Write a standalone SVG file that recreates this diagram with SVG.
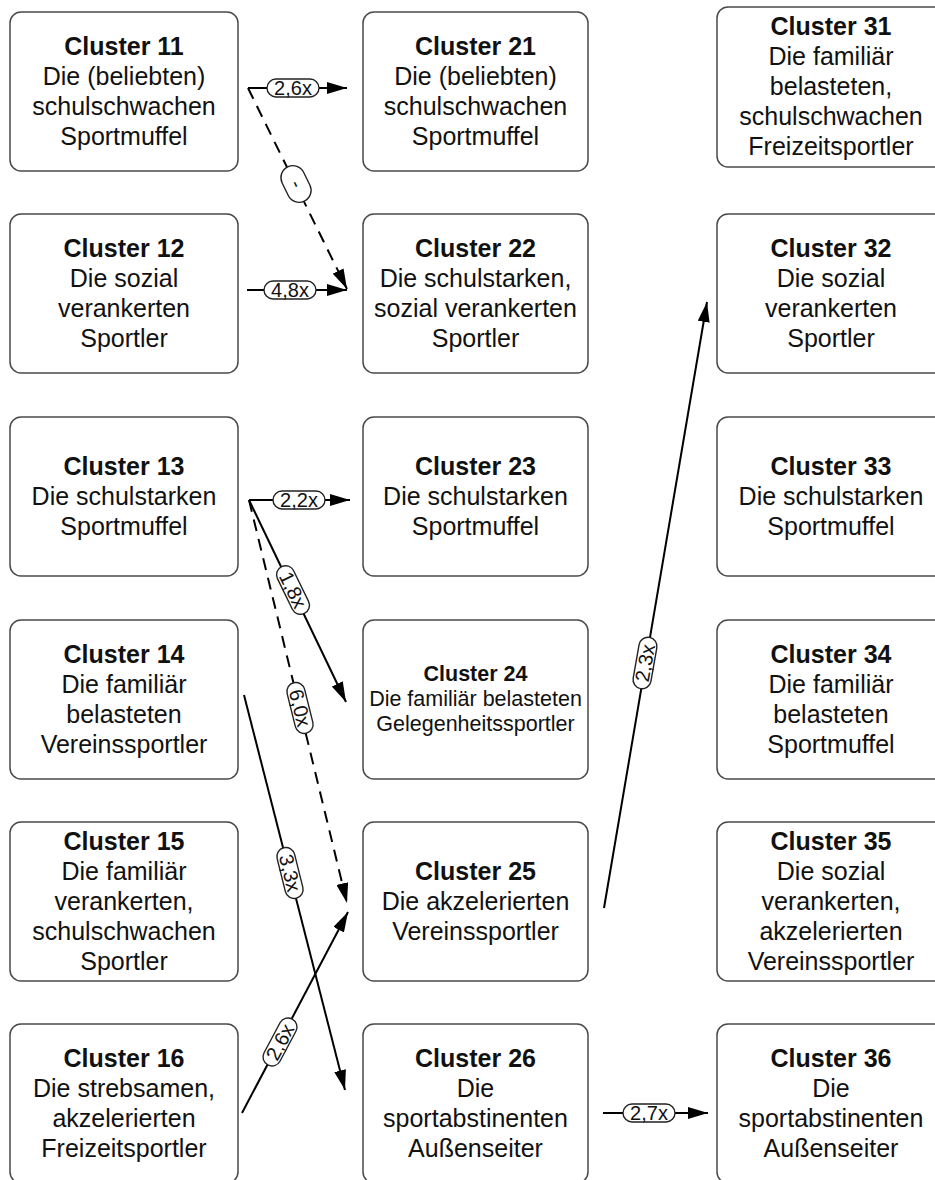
<svg xmlns="http://www.w3.org/2000/svg" width="935" height="1180" viewBox="0 0 935 1180">
<style>
.box{fill:#fff;stroke:#4a4a4a;stroke-width:1.5}
.t{font-family:"Liberation Sans",Arial,sans-serif;font-size:25px;fill:#111;text-anchor:middle}
.b{font-weight:bold;font-size:25px}
.s{font-size:21.5px}
.ln{fill:none;stroke:#000;stroke-width:2}
.dash{stroke-dasharray:12 8}
.pill{fill:#fff;stroke:#222;stroke-width:1.4}
.pt{font-family:"Liberation Sans",Arial,sans-serif;font-size:20px;fill:#111;text-anchor:middle}
</style>
<defs>
<marker id="ah" markerUnits="userSpaceOnUse" markerWidth="20" markerHeight="12" viewBox="0 0 20 12" refX="20" refY="6" orient="auto">
<path d="M0,0 L20,6 L0,12 z" fill="#000"/>
</marker>
</defs>
<rect width="935" height="1180" fill="#fff"/>

<g id="c11"><rect class="box" x="10" y="12" width="228" height="159" rx="11"/>
<text class="t b" x="124" y="55">Cluster 11</text><text class="t" x="124" y="85">Die (beliebten)</text><text class="t" x="124" y="115">schulschwachen</text><text class="t" x="124" y="145">Sportmuffel</text></g>
<g id="c12"><rect class="box" x="10" y="214" width="228" height="159" rx="11"/>
<text class="t b" x="124" y="257">Cluster 12</text><text class="t" x="124" y="287">Die sozial</text><text class="t" x="124" y="317">verankerten</text><text class="t" x="124" y="347">Sportler</text></g>
<g id="c13"><rect class="box" x="10" y="417" width="228" height="159" rx="11"/>
<text class="t b" x="124" y="475">Cluster 13</text><text class="t" x="124" y="505">Die schulstarken</text><text class="t" x="124" y="535">Sportmuffel</text></g>
<g id="c14"><rect class="box" x="10" y="620" width="228" height="159" rx="11"/>
<text class="t b" x="124" y="663">Cluster 14</text><text class="t" x="124" y="693">Die familiär</text><text class="t" x="124" y="723">belasteten</text><text class="t" x="124" y="753">Vereinssportler</text></g>
<g id="c15"><rect class="box" x="10" y="822" width="228" height="159" rx="11"/>
<text class="t b" x="124" y="850">Cluster 15</text><text class="t" x="124" y="880">Die familiär</text><text class="t" x="124" y="910">verankerten,</text><text class="t" x="124" y="940">schulschwachen</text><text class="t" x="124" y="970">Sportler</text></g>
<g id="c16"><rect class="box" x="10" y="1024" width="228" height="159" rx="11"/>
<text class="t b" x="124" y="1067">Cluster 16</text><text class="t" x="124" y="1097">Die strebsamen,</text><text class="t" x="124" y="1127">akzelerierten</text><text class="t" x="124" y="1157">Freizeitsportler</text></g>

<g id="c21"><rect class="box" x="363" y="12" width="225" height="159" rx="11"/>
<text class="t b" x="475.5" y="55">Cluster 21</text><text class="t" x="475.5" y="85">Die (beliebten)</text><text class="t" x="475.5" y="115">schulschwachen</text><text class="t" x="475.5" y="145">Sportmuffel</text></g>
<g id="c22"><rect class="box" x="363" y="214" width="225" height="159" rx="11"/>
<text class="t b" x="475.5" y="257">Cluster 22</text><text class="t" x="475.5" y="287">Die schulstarken,</text><text class="t" x="475.5" y="317">sozial verankerten</text><text class="t" x="475.5" y="347">Sportler</text></g>
<g id="c23"><rect class="box" x="363" y="417" width="225" height="159" rx="11"/>
<text class="t b" x="475.5" y="475">Cluster 23</text><text class="t" x="475.5" y="505">Die schulstarken</text><text class="t" x="475.5" y="535">Sportmuffel</text></g>
<g id="c24"><rect class="box" x="363" y="620" width="225" height="159" rx="11"/>
<text class="t b s" x="475.5" y="681">Cluster 24</text><text class="t s" x="475.5" y="706">Die familiär belasteten</text><text class="t s" x="475.5" y="731">Gelegenheitssportler</text></g>
<g id="c25"><rect class="box" x="363" y="822" width="225" height="159" rx="11"/>
<text class="t b" x="475.5" y="880">Cluster 25</text><text class="t" x="475.5" y="910">Die akzelerierten</text><text class="t" x="475.5" y="940">Vereinssportler</text></g>
<g id="c26"><rect class="box" x="363" y="1024" width="225" height="159" rx="11"/>
<text class="t b" x="475.5" y="1067">Cluster 26</text><text class="t" x="475.5" y="1097">Die</text><text class="t" x="475.5" y="1127">sportabstinenten</text><text class="t" x="475.5" y="1157">Außenseiter</text></g>

<g id="c31"><rect class="box" x="717" y="7" width="228" height="160" rx="11"/>
<text class="t b" x="831" y="35">Cluster 31</text><text class="t" x="831" y="65">Die familiär</text><text class="t" x="831" y="95">belasteten,</text><text class="t" x="831" y="125">schulschwachen</text><text class="t" x="831" y="155">Freizeitsportler</text></g>
<g id="c32"><rect class="box" x="717" y="214" width="228" height="159" rx="11"/>
<text class="t b" x="831" y="257">Cluster 32</text><text class="t" x="831" y="287">Die sozial</text><text class="t" x="831" y="317">verankerten</text><text class="t" x="831" y="347">Sportler</text></g>
<g id="c33"><rect class="box" x="717" y="417" width="228" height="159" rx="11"/>
<text class="t b" x="831" y="475">Cluster 33</text><text class="t" x="831" y="505">Die schulstarken</text><text class="t" x="831" y="535">Sportmuffel</text></g>
<g id="c34"><rect class="box" x="717" y="620" width="228" height="159" rx="11"/>
<text class="t b" x="831" y="663">Cluster 34</text><text class="t" x="831" y="693">Die familiär</text><text class="t" x="831" y="723">belasteten</text><text class="t" x="831" y="753">Sportmuffel</text></g>
<g id="c35"><rect class="box" x="717" y="822" width="228" height="159" rx="11"/>
<text class="t b" x="831" y="850">Cluster 35</text><text class="t" x="831" y="880">Die sozial</text><text class="t" x="831" y="910">verankerten,</text><text class="t" x="831" y="940">akzelerierten</text><text class="t" x="831" y="970">Vereinssportler</text></g>
<g id="c36"><rect class="box" x="717" y="1024" width="228" height="159" rx="11"/>
<text class="t b" x="831" y="1067">Cluster 36</text><text class="t" x="831" y="1097">Die</text><text class="t" x="831" y="1127">sportabstinenten</text><text class="t" x="831" y="1157">Außenseiter</text></g>

<g id="connectors">
<path class="ln" d="M248,88 L347,88" marker-end="url(#ah)"/>
<path class="ln dash" d="M248,88 L347,289" marker-end="url(#ah)"/>
<path class="ln" d="M247,290 L347,290" marker-end="url(#ah)"/>
<path class="ln" d="M249,500 L350,500" marker-end="url(#ah)"/>
<path class="ln" d="M249,500 L346,702" marker-end="url(#ah)"/>
<path class="ln dash" d="M249,500 L347,903" marker-end="url(#ah)"/>
<path class="ln" d="M244,695 L345,1090" marker-end="url(#ah)"/>
<path class="ln" d="M242,1113 L348,912" marker-end="url(#ah)"/>
<path class="ln" d="M604,908 L707,302" marker-end="url(#ah)"/>
<path class="ln" d="M603,1113 L708,1113" marker-end="url(#ah)"/>

<g transform="translate(293,88)"><rect class="pill" x="-26" y="-9" width="52" height="18" rx="9"/><text class="pt" y="7">2,6x</text></g>
<g transform="translate(296,184) rotate(64)"><rect class="pill" x="-19" y="-12" width="38" height="24" rx="12"/><text class="pt" y="6">-</text></g>
<g transform="translate(290,290)"><rect class="pill" x="-26" y="-9" width="52" height="18" rx="9"/><text class="pt" y="7">4,8x</text></g>
<g transform="translate(299,500)"><rect class="pill" x="-26" y="-9" width="52" height="18" rx="9"/><text class="pt" y="7">2,2x</text></g>
<g transform="translate(293,590) rotate(64)"><rect class="pill" x="-26" y="-9" width="52" height="18" rx="9"/><text class="pt" y="7">1,8x</text></g>
<g transform="translate(300,708) rotate(76)"><rect class="pill" x="-26" y="-9" width="52" height="18" rx="9"/><text class="pt" y="7">6,0x</text></g>
<g transform="translate(290,873) rotate(76)"><rect class="pill" x="-26" y="-9" width="52" height="18" rx="9"/><text class="pt" y="7">3,3x</text></g>
<g transform="translate(280,1042) rotate(-62)"><rect class="pill" x="-26" y="-9" width="52" height="18" rx="9"/><text class="pt" y="7">2,6x</text></g>
<g transform="translate(645,663) rotate(-80)"><rect class="pill" x="-26" y="-9" width="52" height="18" rx="9"/><text class="pt" y="7">2,3x</text></g>
<g transform="translate(649,1113)"><rect class="pill" x="-26" y="-9" width="52" height="18" rx="9"/><text class="pt" y="7">2,7x</text></g>
</g>
</svg>
